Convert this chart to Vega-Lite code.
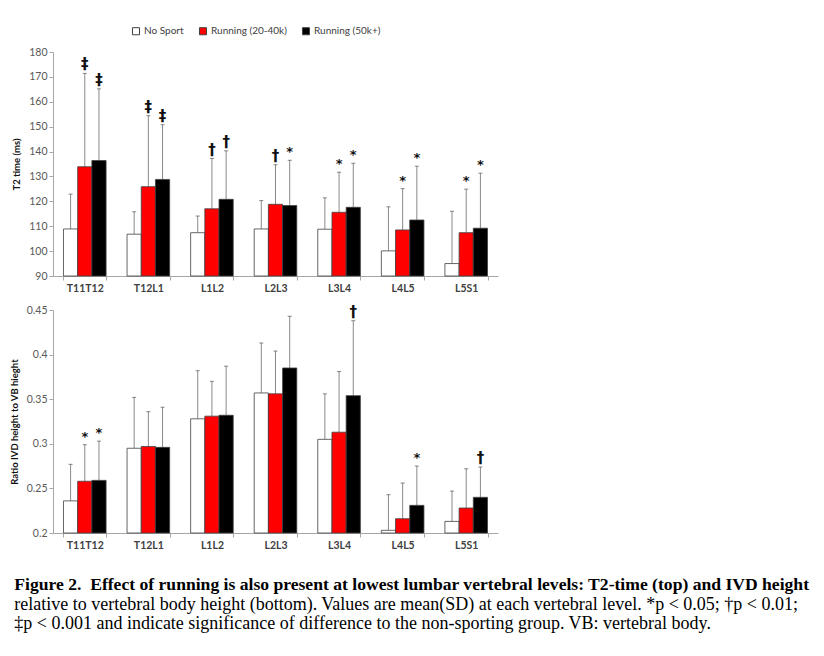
{
  "$schema": "https://vega.github.io/schema/vega-lite/v6.json",
  "background": "white",
  "padding": {"left": 9, "top": 26, "right": 10, "bottom": 5},
  "config": {
    "view": {"stroke": null},
    "font": "Lato",
    "axis": {"domainColor": "#a6a6a6", "tickColor": "#a6a6a6", "labelColor": "#595959", "labelFont": "Lato", "labelFontSize": 10.5, "titleFont": "Lato", "titleFontSize": 9.5, "titleColor": "#111111", "titleFontWeight": "bold", "grid": false, "tickSize": 4, "domainWidth": 1}
  },
  "datasets": {
    "t2": [
      {"level": "T11T12", "group": "No Sport", "value": 108.9, "err": 122.9, "sig": ""},
      {"level": "T11T12", "group": "Running (20-40k)", "value": 133.9, "err": 171.4, "sig": "‡"},
      {"level": "T11T12", "group": "Running (50k+)", "value": 136.4, "err": 165.2, "sig": "‡"},
      {"level": "T12L1", "group": "No Sport", "value": 106.8, "err": 115.8, "sig": ""},
      {"level": "T12L1", "group": "Running (20-40k)", "value": 125.9, "err": 154.4, "sig": "‡"},
      {"level": "T12L1", "group": "Running (50k+)", "value": 128.8, "err": 150.8, "sig": "‡"},
      {"level": "L1L2", "group": "No Sport", "value": 107.4, "err": 114.1, "sig": ""},
      {"level": "L1L2", "group": "Running (20-40k)", "value": 117.0, "err": 137.2, "sig": "†"},
      {"level": "L1L2", "group": "Running (50k+)", "value": 120.8, "err": 140.3, "sig": "†"},
      {"level": "L2L3", "group": "No Sport", "value": 108.9, "err": 120.3, "sig": ""},
      {"level": "L2L3", "group": "Running (20-40k)", "value": 118.8, "err": 134.7, "sig": "†"},
      {"level": "L2L3", "group": "Running (50k+)", "value": 118.3, "err": 136.5, "sig": "*"},
      {"level": "L3L4", "group": "No Sport", "value": 108.8, "err": 121.4, "sig": ""},
      {"level": "L3L4", "group": "Running (20-40k)", "value": 115.6, "err": 131.7, "sig": "*"},
      {"level": "L3L4", "group": "Running (50k+)", "value": 117.6, "err": 135.3, "sig": "*"},
      {"level": "L4L5", "group": "No Sport", "value": 100.1, "err": 117.8, "sig": ""},
      {"level": "L4L5", "group": "Running (20-40k)", "value": 108.5, "err": 125.1, "sig": "*"},
      {"level": "L4L5", "group": "Running (50k+)", "value": 112.5, "err": 134.1, "sig": "*"},
      {"level": "L5S1", "group": "No Sport", "value": 95.0, "err": 116.0, "sig": ""},
      {"level": "L5S1", "group": "Running (20-40k)", "value": 107.4, "err": 124.9, "sig": "*"},
      {"level": "L5S1", "group": "Running (50k+)", "value": 109.2, "err": 131.3, "sig": "*"}
    ],
    "ratio": [
      {"level": "T11T12", "group": "No Sport", "value": 0.236, "err": 0.277, "sig": ""},
      {"level": "T11T12", "group": "Running (20-40k)", "value": 0.258, "err": 0.299, "sig": "*"},
      {"level": "T11T12", "group": "Running (50k+)", "value": 0.259, "err": 0.303, "sig": "*"},
      {"level": "T12L1", "group": "No Sport", "value": 0.295, "err": 0.352, "sig": ""},
      {"level": "T12L1", "group": "Running (20-40k)", "value": 0.297, "err": 0.336, "sig": ""},
      {"level": "T12L1", "group": "Running (50k+)", "value": 0.296, "err": 0.341, "sig": ""},
      {"level": "L1L2", "group": "No Sport", "value": 0.328, "err": 0.382, "sig": ""},
      {"level": "L1L2", "group": "Running (20-40k)", "value": 0.331, "err": 0.370, "sig": ""},
      {"level": "L1L2", "group": "Running (50k+)", "value": 0.332, "err": 0.387, "sig": ""},
      {"level": "L2L3", "group": "No Sport", "value": 0.357, "err": 0.413, "sig": ""},
      {"level": "L2L3", "group": "Running (20-40k)", "value": 0.356, "err": 0.404, "sig": ""},
      {"level": "L2L3", "group": "Running (50k+)", "value": 0.385, "err": 0.443, "sig": ""},
      {"level": "L3L4", "group": "No Sport", "value": 0.305, "err": 0.356, "sig": ""},
      {"level": "L3L4", "group": "Running (20-40k)", "value": 0.313, "err": 0.381, "sig": ""},
      {"level": "L3L4", "group": "Running (50k+)", "value": 0.354, "err": 0.438, "sig": "†"},
      {"level": "L4L5", "group": "No Sport", "value": 0.203, "err": 0.243, "sig": ""},
      {"level": "L4L5", "group": "Running (20-40k)", "value": 0.216, "err": 0.256, "sig": ""},
      {"level": "L4L5", "group": "Running (50k+)", "value": 0.231, "err": 0.275, "sig": "*"},
      {"level": "L5S1", "group": "No Sport", "value": 0.213, "err": 0.247, "sig": ""},
      {"level": "L5S1", "group": "Running (20-40k)", "value": 0.228, "err": 0.272, "sig": ""},
      {"level": "L5S1", "group": "Running (50k+)", "value": 0.240, "err": 0.274, "sig": "†"}
    ]
  },
  "title": {
    "text": "Figure 2.\u00a0 Effect of running is also present at lowest lumbar vertebral levels: T2-time (top) and IVD height",
    "subtitle": [
      "relative to vertebral body height (bottom). Values are mean(SD) at each vertebral level. *p < 0.05; †p < 0.01;",
      "‡p < 0.001 and indicate significance of difference to the non-sporting group. VB: vertebral body."
    ],
    "orient": "bottom",
    "anchor": "start",
    "frame": "bounds",
    "offset": 25,
    "dx": 5,
    "font": "Liberation Serif",
    "fontSize": 17.6,
    "fontWeight": "bold",
    "color": "#000000",
    "subtitleFont": "Liberation Serif",
    "subtitleFontSize": 18,
    "subtitleColor": "#000000",
    "subtitlePadding": 3,
    "subtitleLineHeight": 19
  },
  "spacing": 10,
  "resolve": {"legend": {"color": "independent"}},
  "vconcat": [
    {
      "width": 445,
      "height": 224,
      "data": {"name": "t2"},
      "encoding": {
        "x": {"field": "level", "type": "nominal", "sort": ["T11T12", "T12L1", "L1L2", "L2L3", "L3L4", "L4L5", "L5S1"], "scale": {"paddingInner": 0.33, "paddingOuter": 0.165}, "axis": {"title": null, "labelAngle": 0, "tickBand": "extent", "labelFontWeight": "bold", "labelColor": "#404040", "labelPadding": 3}},
        "xOffset": {"field": "group", "type": "nominal", "sort": ["No Sport", "Running (20-40k)", "Running (50k+)"]},
        "y": {"field": "value", "type": "quantitative", "title": "T2 time (ms)", "scale": {"domain": [90, 180], "nice": false, "zero": false}, "axis": {"values": [90, 100, 110, 120, 130, 140, 150, 160, 170, 180], "titlePadding": 7}}
      },
      "layer": [
        {"mark": {"type": "rule", "color": "#8a8a8a", "strokeWidth": 1}, "encoding": {"y2": {"field": "err"}}},
        {"mark": {"type": "tick", "orient": "horizontal", "size": 4, "thickness": 1, "color": "#555555"}, "encoding": {"y": {"field": "err", "type": "quantitative", "title": "T2 time (ms)"}}},
        {"mark": {"type": "bar", "stroke": "#404040", "strokeWidth": 0.8}, "encoding": {"y2": {"datum": 90}, "color": {"field": "group", "type": "nominal", "sort": ["No Sport", "Running (20-40k)", "Running (50k+)"], "scale": {"domain": ["No Sport", "Running (20-40k)", "Running (50k+)"], "range": ["#ffffff", "#ff0000", "#000000"]}, "legend": {"orient": "none", "legendX": 78, "legendY": -26, "direction": "horizontal", "title": null, "symbolType": "square", "symbolSize": 50, "symbolStrokeColor": "#404040", "symbolStrokeWidth": 1, "labelFont": "Lato", "labelFontSize": 10, "labelColor": "#404040", "columnPadding": 13, "labelOffset": 3}}}},
        {"transform": [{"filter": "datum.sig == '*'"}], "mark": {"type": "text", "font": "DejaVu Sans", "fontWeight": "bold", "fontSize": 13, "baseline": "middle", "dy": -8, "color": "#111111"}, "encoding": {"y": {"field": "err", "type": "quantitative", "title": "T2 time (ms)"}, "text": {"field": "sig"}}},
        {"transform": [{"filter": "datum.sig != '*' && datum.sig != ''"}], "mark": {"type": "text", "font": "DejaVu Sans", "fontWeight": "bold", "fontSize": 15, "baseline": "alphabetic", "dy": -4, "color": "#111111"}, "encoding": {"y": {"field": "err", "type": "quantitative", "title": "T2 time (ms)"}, "text": {"field": "sig"}}}
      ]
    },
    {
      "width": 445,
      "height": 223,
      "data": {"name": "ratio"},
      "encoding": {
        "x": {"field": "level", "type": "nominal", "sort": ["T11T12", "T12L1", "L1L2", "L2L3", "L3L4", "L4L5", "L5S1"], "scale": {"paddingInner": 0.33, "paddingOuter": 0.165}, "axis": {"title": null, "labelAngle": 0, "tickBand": "extent", "labelFontWeight": "bold", "labelColor": "#404040", "labelPadding": 3}},
        "xOffset": {"field": "group", "type": "nominal", "sort": ["No Sport", "Running (20-40k)", "Running (50k+)"]},
        "y": {"field": "value", "type": "quantitative", "title": "Ratio IVD height to VB hieght", "scale": {"domain": [0.2, 0.45], "nice": false, "zero": false}, "axis": {"values": [0.2, 0.25, 0.3, 0.35, 0.4, 0.45], "format": ".2~f", "titlePadding": 7}}
      },
      "layer": [
        {"mark": {"type": "rule", "color": "#8a8a8a", "strokeWidth": 1}, "encoding": {"y2": {"field": "err"}}},
        {"mark": {"type": "tick", "orient": "horizontal", "size": 4, "thickness": 1, "color": "#555555"}, "encoding": {"y": {"field": "err", "type": "quantitative", "title": "Ratio IVD height to VB hieght"}}},
        {"mark": {"type": "bar", "stroke": "#404040", "strokeWidth": 0.8}, "encoding": {"y2": {"datum": 0.2}, "color": {"field": "group", "type": "nominal", "sort": ["No Sport", "Running (20-40k)", "Running (50k+)"], "scale": {"domain": ["No Sport", "Running (20-40k)", "Running (50k+)"], "range": ["#ffffff", "#ff0000", "#000000"]}, "legend": null}}},
        {"transform": [{"filter": "datum.sig == '*'"}], "mark": {"type": "text", "font": "DejaVu Sans", "fontWeight": "bold", "fontSize": 13, "baseline": "middle", "dy": -8, "color": "#111111"}, "encoding": {"y": {"field": "err", "type": "quantitative", "title": "Ratio IVD height to VB hieght"}, "text": {"field": "sig"}}},
        {"transform": [{"filter": "datum.sig != '*' && datum.sig != ''"}], "mark": {"type": "text", "font": "DejaVu Sans", "fontWeight": "bold", "fontSize": 15, "baseline": "alphabetic", "dy": -4, "color": "#111111"}, "encoding": {"y": {"field": "err", "type": "quantitative", "title": "Ratio IVD height to VB hieght"}, "text": {"field": "sig"}}}
      ]
    }
  ]
}
